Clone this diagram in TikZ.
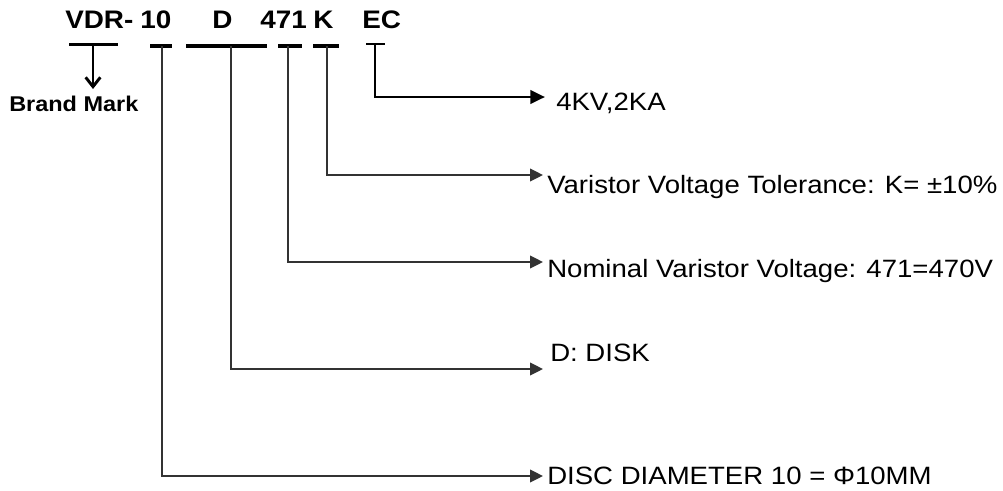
\documentclass[tikz,border=0pt]{standalone}
\usepackage{fontspec}
\setmainfont{Liberation Sans}[FakeStretch=1.1]
\usetikzlibrary{arrows.meta}
\definecolor{leadgray}{HTML}{333333}
\begin{document}
\begin{tikzpicture}[x=0.75pt,y=-0.75pt,
  hdr/.style={anchor=base west, inner sep=0pt, font=\bfseries\fontsize{19}{22}\selectfont},
  brandlbl/.style={anchor=base west, inner sep=0pt, font=\bfseries\fontsize{16}{19}\selectfont},
  lbl/.style={anchor=base west, inner sep=0pt, font=\fontsize{18.8}{22}\selectfont},
  bar/.style={line width=3pt},
  lead/.style={draw=leadgray, line width=1.35pt, -{Triangle[length=9.75pt,width=9.5pt]}},
  thicklead/.style={draw=black, line width=2.2pt, -{Triangle[length=11pt,width=10pt]}}]
\useasboundingbox (0,0) rectangle (1003,490);
% header texts
\node[hdr] (vdr) at (65,28) {VDR-};
\node[hdr] (n10) at (140,28) {10};
\node[hdr] (nD) at (212,28) {D};
\node[hdr] (n471) at (260,28) {471};
\node[hdr] (nK) at (313,28) {K};
\node[hdr] (nEC) at (362,28) {EC};
\node[brandlbl] (brand) at (9,111) {Brand Mark};
% bars
\draw[line width=2.25pt] (69,44.5) -- (118,44.5);
\draw[bar] (150,46) -- (172,46);
\draw[bar] (186,46) -- (267,46);
\draw[bar] (278,46) -- (302,46);
\draw[bar] (313,46) -- (339,46);
\draw[line width=1.9pt] (366,44) -- (385,44);
% anchor coordinates
\coordinate (bB) at (93,46);
\coordinate (tB) at (93,89);
\coordinate (b10) at (162,46);
\coordinate (bD) at (231,46);
\coordinate (b471) at (288,46);
\coordinate (bK) at (327,46);
\coordinate (bEC) at (375,44);
\coordinate (eEC) at (545,97);
\coordinate (eK) at (543,175);
\coordinate (e471) at (543,262);
\coordinate (eD) at (543,369);
\coordinate (e10) at (543,476);
% labels
\node[lbl] (tEC) at (556,110) {4KV,2KA};
\node[lbl] (tK) at (547,193) {Varistor Voltage Tolerance: K= ±10\%};
\node[lbl] (t471) at (547,277) {Nominal Varistor Voltage: 471=470V};
\node[lbl] (tD) at (550,361) {D: DISK};
\node[lbl] (t10) at (547,484) {DISC DIAMETER 10 = Φ10MM};
% connectors
\draw[line width=2.2pt, -{Straight Barb[length=7pt,width=11pt]}] (bB) -- (tB);
\draw[thicklead] (bEC) |- (eEC);
\draw[lead] (bK) |- (eK);
\draw[lead] (b471) |- (e471);
\draw[lead] (bD) |- (eD);
\draw[lead] (b10) |- (e10);
\end{tikzpicture}
\end{document}
